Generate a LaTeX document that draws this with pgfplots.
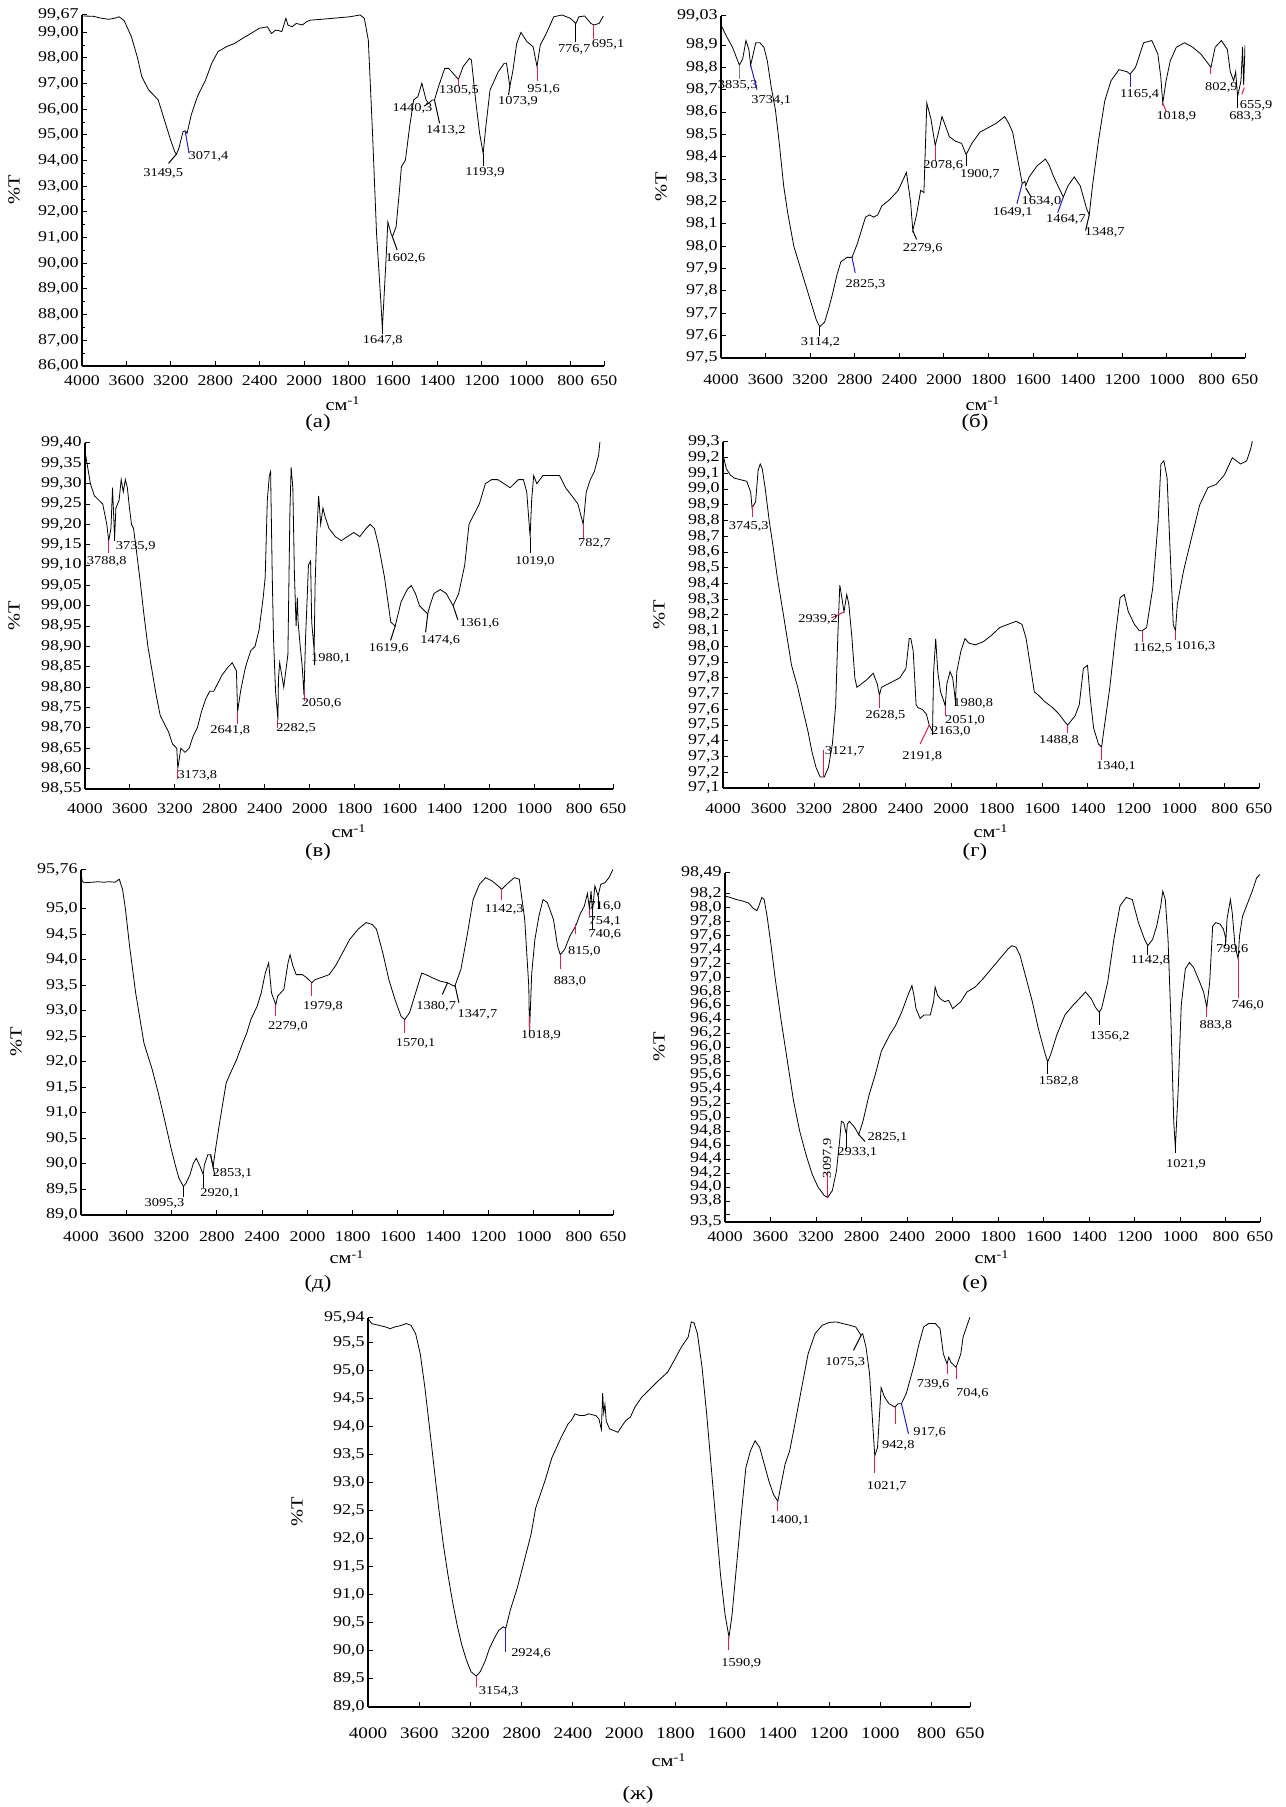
\documentclass[border=0pt]{standalone}
\usepackage{fontspec}
\setmainfont{Liberation Serif}[FakeStretch=1.2]
\usepackage{pgfplots}
\pgfplotsset{compat=1.18}
\definecolor{lred}{RGB}{225,30,80}
\definecolor{lblue}{RGB}{30,30,210}
\newcommand\xtickfont{\fontsize{7.4}{8}\selectfont}
\newcommand\ytickfont{\fontsize{7.5}{8}\selectfont}
\newcommand\annfont{\fontsize{6}{6.5}\selectfont}
\newcommand\labfont{\fontsize{8.5}{9}\selectfont}
\newcommand\subfont{\fontsize{9.5}{10}\selectfont}
% leader line from (x1,y1) to (x2,y2) and label centred at (lx,ly)
\newcommand{\ann}[8][black]{%
  \draw[#1, line width=0.5pt] (axis cs:#2,#3) -- (axis cs:#4,#5);
  \node[font=\annfont, inner sep=0pt] at (axis cs:#6,#7) {#8};}
\pgfplotsset{
 ir/.style={
  scale only axis, anchor=north west,
  axis x line*=bottom, axis y line*=left,
  clip mode=individual,
  x coord trafo/.code={\pgfmathparse{(6000-(##1)-min(##1,2000))/400}},
  xmin=4000, xmax=650,
  xtick={4000,3600,3200,2800,2400,2000,1800,1600,1400,1200,1000,800,650},
  xticklabels={4000,3600,3200,2800,2400,2000,1800,1600,1400,1200,1000,800,650},
  x tick label style={font=\xtickfont, inner sep=1.5pt},
  scaled y ticks=false,
  /pgf/number format/assume math mode=true,
  y tick label style={font=\ytickfont, inner sep=1.5pt, /pgf/number format/.cd, use comma, fixed, fixed zerofill, precision=1, assume math mode=true},
  tick align=inside, major tick length=2.5pt, minor tick length=1.5pt,
  axis line style={line width=0.6pt},
  every tick/.style={black, line width=0.5pt},
  cycle list={{black, no markers, line width=0.65pt, line join=round}},
 }
}
\begin{document}
\begin{tikzpicture}
\path[use as bounding box] (0,0) rectangle (642.5pt,903.5pt);

% ---------------- (a)
\begin{axis}[ir, at={(41pt,896pt)}, width=261pt, height=175.5pt,
  ymin=86, ymax=99.67, ytick={86,87,88,89,90,91,92,93,94,95,96,97,98,99}, minor y tick num=1,
  y tick label style={/pgf/number format/precision=2},
  extra y ticks={99.67}, extra y tick labels={99{,}67},
  x tick label style={yshift=-3pt}]
\addplot coordinates {(4000,99.63)(3900,99.62)(3833,99.55)(3760,99.50)(3700,99.55)(3666,99.60)(3620,99.45)(3555,98.82)(3500,98.00)(3462,97.27)(3400,96.75)(3369,96.62)(3314,96.36)(3258,95.58)(3202,94.80)(3165,94.34)(3149.5,94.25)(3128,94.47)(3091,95.12)(3071.4,95.16)(3054,95.06)(3017,95.77)(2961,96.49)(2887,97.14)(2832,97.79)(2776,98.24)(2702,98.43)(2627,98.56)(2553,98.76)(2479,98.95)(2405,99.15)(2331,99.21)(2294,98.95)(2257,99.08)(2220,99.05)(2201,99.02)(2164,99.54)(2146,99.28)(2108,99.21)(2071,99.34)(2015,99.28)(1989,99.41)(1970,99.47)(1924,99.50)(1794,99.60)(1748,99.67)(1729,99.54)(1711,98.69)(1692,95.06)(1674,91.16)(1655,88.56)(1647.8,87.46)(1633,89.86)(1623,91.61)(1609,91.16)(1602.6,91.03)(1586,91.42)(1572,92.72)(1562,93.76)(1544,94.02)(1525,95.32)(1507,96.36)(1488,96.49)(1470,97.01)(1451,96.36)(1440.3,96.23)(1423,96.36)(1413.2,96.36)(1395,96.88)(1367,97.59)(1349,97.59)(1330,97.40)(1305.5,97.16)(1284,97.66)(1256,97.98)(1247,97.92)(1228,96.36)(1210,95.06)(1193.9,94.28)(1182,95.32)(1163,96.75)(1126,97.46)(1099,97.79)(1089,97.79)(1073.9,96.88)(1061,97.46)(1043,98.56)(1024,98.99)(997,98.63)(969,98.43)(951.6,97.66)(937,98.50)(913,98.89)(876,99.60)(839,99.67)(802,99.54)(776.7,99.34)(763,99.60)(737,99.63)(709,99.34)(695.1,99.28)(672,99.34)(653,99.63)};
\ann{3149.5}{94.25}{3221}{93.89}{3269}{93.5}{3149,5}
\ann[lblue]{3071.4}{95.16}{3036}{94.28}{2861}{94.15}{3071,4}
\ann{1647.8}{87.46}{1647.8}{87.25}{1646}{87.0}{1647,8}
\ann{1602.6}{91.03}{1581}{90.51}{1544}{90.18}{1602,6}
\ann{1440.3}{96.23}{1460}{96.12}{1512}{96.03}{1440,3}
\ann{1413.2}{96.36}{1390}{95.45}{1362}{95.19}{1413,2}
\ann[lred]{1305.5}{97.16}{1305.5}{96.9}{1303}{96.72}{1305,5}
\ann{1193.9}{94.28}{1193.9}{93.8}{1186}{93.55}{1193,9}
\ann{1073.9}{96.88}{1080}{96.55}{1037}{96.29}{1073,9}
\ann[lred]{951.6}{97.66}{951.6}{97.1}{922}{96.77}{951,6}
\ann{776.7}{99.34}{776.7}{98.6}{784}{98.33}{776,7}
\ann[lred]{695.1}{99.28}{695.1}{98.75}{632}{98.54}{695,1}
\end{axis}

% ---------------- (б)
\begin{axis}[ir, at={(360.5pt,895.5pt)}, width=262pt, height=171pt,
  ymin=97.5, ymax=99.03, ytick={97.5,97.6,97.7,97.8,97.9,98.0,98.1,98.2,98.3,98.4,98.5,98.6,98.7,98.8,98.9},
  extra y ticks={99.03}, extra y tick labels={99{,}03},
  x tick label style={yshift=-6.5pt}]
\addplot coordinates {(4000,98.99)(3952,98.94)(3897,98.89)(3835.3,98.81)(3805,98.84)(3776,98.92)(3750,98.88)(3734.1,98.81)(3688,98.91)(3651,98.91)(3615,98.89)(3585,98.83)(3549,98.71)(3512,98.61)(3475,98.45)(3438,98.27)(3402,98.15)(3347,98.00)(3292,97.91)(3237,97.82)(3182,97.73)(3145,97.67)(3114.2,97.64)(3071,97.66)(3035,97.72)(2998,97.79)(2961,97.87)(2925,97.93)(2870,97.95)(2825.3,97.95)(2778,98.01)(2741,98.07)(2704,98.13)(2668,98.14)(2631,98.13)(2594,98.14)(2558,98.18)(2484,98.21)(2411,98.25)(2337,98.33)(2300,98.20)(2279.6,98.07)(2246,98.14)(2209,98.25)(2180,98.24)(2154,98.64)(2117,98.57)(2078.6,98.45)(2044,98.52)(2018,98.58)(1994,98.54)(1976,98.49)(1949,98.47)(1921,98.46)(1900.7,98.41)(1875,98.46)(1839,98.51)(1802,98.53)(1765,98.55)(1728,98.58)(1710,98.55)(1692,98.51)(1664,98.36)(1649.1,98.28)(1637,98.29)(1634.0,98.27)(1618,98.31)(1582,98.36)(1545,98.39)(1527,98.36)(1508,98.31)(1464.7,98.22)(1444,98.27)(1416,98.31)(1389,98.27)(1361,98.17)(1348.7,98.14)(1334,98.27)(1306,98.48)(1279,98.65)(1251,98.74)(1215,98.79)(1178,98.78)(1165.4,98.77)(1141,98.80)(1105,98.91)(1068,98.92)(1041,98.86)(1028,98.76)(1018.9,98.64)(1004,98.74)(985,98.83)(958,98.89)(921,98.91)(884,98.89)(848,98.86)(802.9,98.80)(784,98.89)(756,98.92)(729,98.88)(716,98.78)(701,98.74)(692,98.78)(683.3,98.67)(668,98.74)(661,98.89)(655.9,98.72)(650,98.90)};
\ann[gray]{3835.3}{98.81}{3835.3}{98.75}{3850}{98.72}{3835,3}
\ann[lblue]{3734.1}{98.81}{3677}{98.70}{3549}{98.65}{3734,1}
\ann{3114.2}{97.64}{3114.2}{97.60}{3108}{97.57}{3114,2}
\ann[lblue]{2825.3}{97.95}{2796}{97.88}{2704}{97.83}{2825,3}
\ann{2279.6}{98.07}{2246}{98.03}{2191}{97.99}{2279,6}
\ann[lred]{2078.6}{98.45}{2078.6}{98.38}{2007}{98.36}{2078,6}
\ann{1900.7}{98.41}{1900.7}{98.36}{1839}{98.32}{1900,7}
\ann[lblue]{1649.1}{98.28}{1673}{98.19}{1692}{98.15}{1649,1}
\ann{1633}{98.26}{1609}{98.22}{1563}{98.20}{1634,0}
\ann[lblue]{1464.7}{98.22}{1490}{98.15}{1453}{98.12}{1464,7}
\ann{1348.7}{98.14}{1365}{98.07}{1279}{98.06}{1348,7}
\ann[lblue]{1165.4}{98.77}{1165.4}{98.71}{1123}{98.68}{1165,4}
\ann[lred]{1018.9}{98.64}{1002}{98.60}{958}{98.58}{1018,9}
\ann[lred]{802.9}{98.80}{802.9}{98.77}{756}{98.71}{802,9}
\ann{683.3}{98.67}{683.3}{98.62}{648}{98.58}{683,3}
\ann[lred]{653}{98.71}{664}{98.68}{600}{98.63}{655,9}
\end{axis}

% ---------------- (в)
\begin{axis}[ir, at={(42.5pt,682pt)}, width=264pt, height=173pt,
  ymin=98.55, ymax=99.40, ytick={98.55,98.60,98.65,98.70,98.75,98.80,98.85,98.90,98.95,99.00,99.05,99.10,99.15,99.20,99.25,99.30,99.35,99.40},
  y tick label style={/pgf/number format/precision=2},
  x tick label style={yshift=-5.5pt}]
\addplot coordinates {(4000,99.38)(3982,99.35)(3952,99.30)(3916,99.27)(3879,99.26)(3842,99.25)(3806,99.20)(3788.8,99.16)(3769,99.19)(3755,99.29)(3740,99.19)(3735.9,99.17)(3725,99.24)(3696,99.26)(3678,99.31)(3659,99.28)(3641,99.31)(3623,99.29)(3604,99.24)(3586,99.20)(3568,99.19)(3549,99.15)(3513,99.07)(3476,98.98)(3440,98.90)(3403,98.84)(3366,98.78)(3330,98.73)(3293,98.71)(3256,98.69)(3220,98.66)(3183,98.65)(3173.8,98.60)(3147,98.65)(3110,98.64)(3073,98.65)(3037,98.68)(3000,98.70)(2963,98.74)(2927,98.77)(2890,98.79)(2854,98.79)(2817,98.81)(2780,98.83)(2725,98.85)(2689,98.86)(2652,98.84)(2641.8,98.74)(2615,98.79)(2579,98.84)(2560,98.86)(2524,98.89)(2487,98.90)(2451,98.94)(2414,99.02)(2396,99.07)(2377,99.26)(2359,99.32)(2348,99.33)(2333,99.07)(2322,98.92)(2304,98.79)(2282.5,98.72)(2278,98.82)(2267,98.86)(2231,98.80)(2194,98.88)(2176,99.23)(2165,99.34)(2150,99.29)(2136,99.08)(2121,98.95)(2110,99.02)(2103,98.96)(2084,98.90)(2066,98.85)(2050.6,98.78)(2037,98.92)(2022,99.02)(2011,99.10)(1996,99.11)(1991,98.96)(1980.1,98.89)(1976,99.05)(1969,99.17)(1960,99.27)(1951,99.20)(1941,99.24)(1932,99.22)(1914,99.19)(1886,99.17)(1859,99.16)(1832,99.17)(1804,99.18)(1777,99.17)(1749,99.19)(1731,99.20)(1712,99.19)(1694,99.15)(1667,99.07)(1639,98.96)(1619.6,98.95)(1593,99.01)(1566,99.04)(1548,99.05)(1529,99.03)(1511,99.00)(1474.6,98.98)(1465,99.00)(1447,99.03)(1419,99.04)(1392,99.03)(1361.6,99.00)(1337,99.03)(1310,99.10)(1291,99.20)(1273,99.22)(1245,99.25)(1218,99.30)(1190,99.31)(1163,99.31)(1135,99.30)(1108,99.29)(1071,99.31)(1049,99.31)(1034,99.28)(1019.0,99.17)(1012,99.26)(1003,99.32)(989,99.30)(962,99.32)(925,99.32)(888,99.32)(861,99.29)(833,99.27)(806,99.25)(782.7,99.20)(769,99.28)(751,99.31)(733,99.33)(714,99.37)(705,99.42)};
\ann[lred]{3788.8}{99.16}{3788.8}{99.13}{3806}{99.109}{3788,8}
\ann{3740}{99.19}{3740}{99.16}{3549}{99.146}{3735,9}
\ann[lred]{3173.8}{98.60}{3173.8}{98.575}{3000}{98.584}{3173,8}
\ann[lred]{2641.8}{98.74}{2641.8}{98.71}{2707}{98.695}{2641,8}
\ann[lred]{2282.5}{98.72}{2282.5}{98.70}{2121}{98.699}{2282,5}
\ann[lred]{2050.6}{98.79}{2050.6}{98.765}{1947}{98.76}{2050,6}
\ann{1980.1}{98.89}{1978}{98.855}{1905}{98.87}{1980,1}
\ann{1619.6}{98.95}{1640}{98.915}{1648}{98.896}{1619,6}
\ann{1474.6}{98.98}{1484}{98.935}{1419}{98.916}{1474,6}
\ann{1361.6}{99.00}{1340}{98.965}{1245}{98.957}{1361,6}
\ann{1019}{99.17}{1019}{99.13}{998}{99.109}{1019,0}
\ann[lred]{782.7}{99.20}{782.7}{99.165}{733}{99.152}{782,7}
\end{axis}

% ---------------- (г)
\begin{axis}[ir, at={(361.5pt,682.5pt)}, width=268pt, height=173pt,
  ymin=97.1, ymax=99.3, ytick={97.1,97.2,97.3,97.4,97.5,97.6,97.7,97.8,97.9,98.0,98.1,98.2,98.3,98.4,98.5,98.6,98.7,98.8,98.9,99.0,99.1,99.2,99.3},
  x tick label style={yshift=-6pt}]
\addplot coordinates {(4000,99.22)(3971,99.13)(3936,99.09)(3900,99.07)(3846,99.06)(3792,99.05)(3757,98.98)(3745.3,98.88)(3714,98.92)(3692,99.12)(3674,99.16)(3656,99.13)(3631,99.01)(3595,98.80)(3560,98.63)(3524,98.44)(3470,98.20)(3399,97.88)(3345,97.74)(3291,97.57)(3255,97.46)(3220,97.33)(3184,97.23)(3148,97.17)(3121.7,97.17)(3112,97.17)(3076,97.23)(3041,97.38)(3012,97.63)(2994,98.05)(2976,98.39)(2958,98.31)(2939.2,98.22)(2915,98.33)(2897,98.27)(2869,98.05)(2844,97.80)(2826,97.74)(2790,97.76)(2736,97.79)(2683,97.83)(2647,97.76)(2628.5,97.69)(2611,97.74)(2557,97.76)(2504,97.78)(2450,97.80)(2396,97.86)(2367,98.05)(2353,98.05)(2332,97.97)(2307,97.63)(2289,97.61)(2253,97.60)(2217,97.57)(2191.8,97.50)(2163.0,97.46)(2153,97.84)(2135,98.05)(2117,97.84)(2092,97.71)(2063,97.65)(2051.0,97.62)(2038,97.76)(2009,97.84)(1993,97.80)(1980.8,97.65)(1975,97.84)(1957,97.97)(1939,98.05)(1921,98.02)(1894,98.01)(1859,98.03)(1823,98.07)(1787,98.12)(1751,98.14)(1715,98.16)(1689,98.14)(1671,98.05)(1653,97.88)(1635,97.71)(1617,97.69)(1590,97.65)(1554,97.61)(1527,97.57)(1501,97.52)(1488.8,97.50)(1456,97.56)(1438,97.63)(1420,97.86)(1402,97.88)(1390,97.67)(1375,97.48)(1354,97.38)(1340.1,97.36)(1331,97.46)(1304,97.74)(1277,98.10)(1259,98.31)(1241,98.33)(1223,98.22)(1196,98.14)(1175,98.10)(1162.5,98.10)(1143,98.12)(1116,98.37)(1092,98.80)(1080,99.16)(1067,99.18)(1053,99.07)(1039,98.58)(1026,98.14)(1016.3,98.10)(1008,98.27)(981,98.48)(946,98.69)(910,98.90)(874,99.01)(838,99.03)(802,99.09)(767,99.20)(731,99.16)(704,99.18)(686,99.26)(677,99.32)};
\ann[lred]{3745.3}{98.90}{3745.3}{98.82}{3774}{98.76}{3745,3}
\ann[lred]{2939.2}{98.22}{3050}{98.18}{3166}{98.17}{2939,2}
\ann[lred]{3121.7}{97.17}{3121.7}{97.34}{2933}{97.33}{3121,7}
\ann[lred]{2628.5}{97.69}{2628.5}{97.61}{2575}{97.56}{2628,5}
\ann[lred]{2191.8}{97.50}{2271}{97.38}{2253}{97.30}{2191,8}
\ann{2163}{97.46}{2163}{97.44}{2002}{97.46}{2163,0}
\ann[lred]{2051}{97.62}{2051}{97.56}{1939}{97.53}{2051,0}
\ann{1980.8}{97.65}{1980.8}{97.62}{1903}{97.64}{1980,8}
\ann[lred]{1488.8}{97.50}{1488.8}{97.45}{1527}{97.40}{1488,8}
\ann[lred]{1340.1}{97.36}{1340.1}{97.28}{1277}{97.24}{1340,1}
\ann[lred]{1162.5}{98.10}{1162.5}{98.03}{1116}{97.99}{1162,5}
\ann[lred]{1016.3}{98.10}{1016.3}{98.04}{928}{98.00}{1016,3}
\end{axis}

% ---------------- (д)
\begin{axis}[ir, at={(40.5pt,468.5pt)}, width=266pt, height=172.5pt,
  ymin=89, ymax=95.76, ytick={89,89.5,90,90.5,91,91.5,92,92.5,93,93.5,94,94.5,95},
  extra y ticks={95.76}, extra y tick labels={95{,}76},
  x tick label style={yshift=-6.5pt}]
\addplot coordinates {(4000,95.71)(3989,95.54)(3971,95.51)(3900,95.52)(3850,95.53)(3800,95.52)(3750,95.53)(3700,95.52)(3662,95.58)(3633,95.38)(3607,94.99)(3571,94.27)(3517,93.35)(3444,92.37)(3371,91.85)(3317,91.39)(3262,90.87)(3208,90.34)(3171,90.01)(3135,89.72)(3095.3,89.56)(3073,89.62)(3037,89.79)(3008,90.01)(2982,90.11)(2953,89.98)(2920.1,89.79)(2910,89.98)(2880,90.18)(2855,90.18)(2833,89.95)(2808,90.34)(2771,90.87)(2717,91.59)(2680,91.78)(2626,92.04)(2571,92.37)(2535,92.57)(2499,92.83)(2444,93.09)(2408,93.35)(2372,93.74)(2342,93.94)(2317,93.35)(2279.0,93.12)(2262,93.29)(2208,93.42)(2171,93.94)(2153,94.10)(2128,93.88)(2099,93.71)(2044,93.71)(2007,93.65)(1979.8,93.55)(1967,93.61)(1940,93.65)(1904,93.71)(1876,93.88)(1849,94.10)(1813,94.40)(1776,94.60)(1740,94.73)(1713,94.69)(1695,94.60)(1667,94.14)(1640,93.61)(1613,93.22)(1586,92.89)(1570.1,92.83)(1549,92.96)(1522,93.35)(1495,93.74)(1477,93.71)(1449,93.65)(1413,93.58)(1380.7,93.55)(1349,93.48)(1322,93.81)(1295,94.46)(1268,95.18)(1240,95.48)(1213,95.61)(1186,95.55)(1158,95.45)(1142.3,95.38)(1112,95.51)(1086,95.61)(1064,95.58)(1040,94.79)(1022,93.48)(1018.9,92.57)(1009,93.74)(995,94.40)(977,94.86)(959,95.18)(940,95.12)(913,94.79)(895,94.27)(883.0,94.10)(864,94.20)(840,94.47)(815.0,94.66)(795,94.90)(777,95.05)(763,95.30)(754.1,95.00)(747,95.35)(740.6,94.95)(730,95.45)(716.0,95.25)(704,95.48)(686,95.51)(668,95.61)(650,95.77)};
\ann{3095.3}{89.56}{3095.3}{89.36}{3262}{89.23}{3095,3}
\ann{2920.1}{89.79}{2920.1}{89.52}{2771}{89.43}{2920,1}
\ann{2855}{90.18}{2819}{89.79}{2662}{89.82}{2853,1}
\ann[lred]{2279}{93.12}{2279}{92.9}{2172}{92.70}{2279,0}
\ann[lred]{1979.8}{93.55}{1979.8}{93.29}{1931}{93.09}{1979,8}
\ann[lred]{1570.1}{92.83}{1570.1}{92.57}{1522}{92.37}{1570,1}
\ann{1380.7}{93.55}{1404}{93.32}{1431}{93.09}{1380,7}
\ann{1347.7}{93.5}{1331}{93.16}{1249}{92.93}{1347,7}
\ann[lred]{1142.3}{95.38}{1142.3}{95.18}{1131}{94.99}{1142,3}
\ann[lred]{1018.9}{92.9}{1018.9}{92.62}{968}{92.51}{1018,9}
\ann[lred]{883}{94.10}{883}{93.82}{840}{93.58}{883,0}
\ann[lred]{815}{94.70}{815}{94.5}{777}{94.17}{815,0}
\ann[lred]{754.1}{95.00}{754.1}{94.85}{686}{94.76}{754,1}
\ann{740.6}{94.95}{740.6}{94.6}{686}{94.50}{740,6}
\ann{716}{95.25}{716}{95.0}{686}{95.05}{716,0}
\end{axis}

% ---------------- (е)
\begin{axis}[ir, at={(362.5pt,467pt)}, width=267.5pt, height=174.5pt,
  ymin=93.5, ymax=98.49, ytick={93.8,94.0,94.2,94.4,94.6,94.8,95.0,95.2,95.4,95.6,95.8,96.0,96.2,96.4,96.6,96.8,97.0,97.2,97.4,97.6,97.8,98.0,98.2},
  extra y ticks={93.5,93.6,98.49}, extra y tick labels={93{,}5,,98{,}49},
  x tick label style={yshift=-3pt}]
\addplot coordinates {(4000,98.16)(3953,98.14)(3900,98.11)(3846,98.09)(3792,98.06)(3756,97.99)(3720,97.95)(3702,98.02)(3677,98.14)(3656,98.11)(3631,97.88)(3595,97.45)(3559,96.98)(3505,96.36)(3451,95.79)(3398,95.23)(3344,94.80)(3290,94.47)(3236,94.19)(3183,94.00)(3129,93.88)(3097.9,93.85)(3057,93.95)(3021,94.23)(2993,94.66)(2978,94.94)(2957,94.92)(2933.1,94.75)(2925,94.90)(2907,94.94)(2860,94.85)(2825.1,94.75)(2788,94.94)(2734,95.32)(2681,95.60)(2627,95.94)(2555,96.17)(2501,96.31)(2448,96.50)(2394,96.74)(2358,96.88)(2340,96.74)(2322,96.55)(2286,96.41)(2251,96.46)(2197,96.46)(2168,96.65)(2154,96.86)(2132,96.74)(2107,96.69)(2071,96.65)(2035,96.67)(2000,96.55)(1982,96.60)(1964,96.65)(1937,96.79)(1901,96.86)(1866,96.98)(1830,97.12)(1794,97.26)(1758,97.40)(1740,97.45)(1722,97.43)(1704,97.31)(1677,96.98)(1650,96.65)(1624,96.27)(1597,95.94)(1582.8,95.79)(1570,95.89)(1543,96.17)(1507,96.46)(1471,96.60)(1444,96.69)(1417,96.79)(1391,96.69)(1373,96.57)(1356.2,96.50)(1346,96.55)(1319,96.93)(1292,97.54)(1265,98.02)(1238,98.14)(1211,98.11)(1184,97.78)(1157,97.54)(1142.8,97.45)(1122,97.54)(1104,97.73)(1086,98.02)(1077,98.23)(1066,98.11)(1054,97.54)(1041,96.36)(1029,94.94)(1021.9,94.56)(1009,95.42)(996,96.60)(978,97.12)(960,97.21)(942,97.14)(915,96.93)(898,96.79)(883.8,96.57)(871,96.93)(858,97.73)(844,97.78)(826,97.76)(811,97.69)(799.6,97.54)(795,97.83)(780,98.11)(772,97.92)(760,97.45)(746.0,97.26)(740,97.59)(727,97.87)(709,98.02)(682,98.25)(665,98.42)(650,98.47)};
\draw[lred, line width=0.5pt] (axis cs:3097.9,93.85) -- (axis cs:3097.9,94.2);
\node[font=\annfont, inner sep=0pt, rotate=90] at (axis cs:3097.9,94.41) {3097,9};
\ann{2933.1}{94.75}{2933.1}{94.55}{2838}{94.50}{2933,1}
\ann{2825.1}{94.75}{2770}{94.65}{2573}{94.71}{2825,1}
\ann{1582.8}{95.79}{1582.8}{95.62}{1534}{95.51}{1582,8}
\ann{1356.2}{96.50}{1356.2}{96.32}{1310}{96.15}{1356,2}
\ann{1142.8}{97.45}{1142.8}{97.32}{1131}{97.24}{1142,8}
\ann{1021.9}{94.56}{1021.9}{94.48}{975}{94.33}{1021,9}
\ann[lred]{883.8}{96.57}{883.8}{96.43}{844}{96.31}{883,8}
\ann{799.6}{97.54}{799.6}{97.45}{772}{97.40}{799,6}
\ann[lred]{746}{97.26}{746}{96.7}{704}{96.60}{746,0}
\end{axis}

% ---------------- (ж)
\begin{axis}[ir, at={(184pt,244.5pt)}, width=301pt, height=194.5pt,
  ymin=89, ymax=95.94, ytick={89,89.5,90,90.5,91,91.5,92,92.5,93,93.5,94,94.5,95,95.5},
  extra y ticks={95.94}, extra y tick labels={95{,}94},
  x tick label style={font=\fontsize{8}{8.5}\selectfont, yshift=-8.5pt}]
\addplot coordinates {(4000,95.93)(3971,95.84)(3917,95.81)(3863,95.78)(3827,95.75)(3791,95.78)(3737,95.81)(3701,95.84)(3665,95.81)(3628,95.66)(3592,95.30)(3556,94.70)(3520,93.99)(3484,93.27)(3448,92.55)(3412,91.90)(3376,91.36)(3340,90.88)(3304,90.46)(3268,90.11)(3232,89.84)(3196,89.63)(3154.3,89.55)(3124,89.63)(3087,89.81)(3051,90.05)(3015,90.22)(2979,90.37)(2943,90.43)(2924.6,90.40)(2889,90.73)(2835,91.12)(2781,91.60)(2727,92.08)(2691,92.55)(2655,92.79)(2619,93.03)(2564,93.45)(2492,93.81)(2438,94.05)(2413,94.11)(2384,94.23)(2348,94.20)(2312,94.20)(2276,94.23)(2222,94.20)(2197,94.14)(2178,93.95)(2168,94.60)(2160,94.25)(2150,94.40)(2140,94.10)(2114,93.96)(2078,93.93)(2049,93.90)(2024,93.99)(1994,94.11)(1976,94.17)(1958,94.35)(1931,94.53)(1904,94.65)(1867,94.82)(1831,94.97)(1805,95.18)(1777,95.42)(1750,95.60)(1738,95.87)(1727,95.85)(1714,95.66)(1696,95.06)(1678,94.23)(1660,93.27)(1642,92.31)(1624,91.36)(1606,90.64)(1590.9,90.25)(1579,90.64)(1561,91.54)(1543,92.43)(1525,93.27)(1507,93.57)(1489,93.75)(1471,93.63)(1453,93.33)(1435,93.03)(1417,92.79)(1400.1,92.67)(1390,92.91)(1372,93.33)(1354,93.57)(1336,93.99)(1309,94.65)(1282,95.30)(1255,95.66)(1227,95.81)(1200,95.86)(1173,95.87)(1146,95.84)(1119,95.81)(1096,95.78)(1075.3,95.63)(1069,95.66)(1056,95.42)(1042,94.94)(1029,93.99)(1021.7,93.48)(1011,93.63)(997,94.70)(984,94.53)(966,94.41)(942.8,94.35)(931,94.41)(917.6,94.41)(899,94.59)(885,94.82)(867,95.12)(849,95.48)(831,95.78)(812,95.84)(785,95.84)(767,95.75)(754,95.30)(739.6,95.12)(733,95.24)(725,95.15)(704.6,95.06)(686,95.30)(677,95.60)(659,95.84)(650,95.96)};
\ann[lred]{3154.3}{89.55}{3154.3}{89.36}{2979}{89.28}{3154,3}
\ann[lblue]{2924.6}{90.43}{2924.6}{89.99}{2727}{89.96}{2924,6}
\ann[lred]{1590.9}{90.25}{1590.9}{90.01}{1543}{89.78}{1590,9}
\ann[lred]{1400.1}{92.67}{1400.1}{92.49}{1354}{92.32}{1400,1}
\ann{1075.3}{95.63}{1105}{95.36}{1137}{95.15}{1075,3}
\ann[lred]{1021.7}{93.48}{1021.7}{93.18}{975}{92.94}{1021,7}
\ann[lred]{942.8}{94.35}{942.8}{94.05}{930}{93.66}{942,8}
\ann[lblue]{917.6}{94.41}{890}{93.87}{808}{93.90}{917,6}
\ann[lred]{739.6}{95.12}{739.6}{94.94}{794}{94.76}{739,6}
\ann[lred]{704.6}{95.06}{704.6}{94.85}{641}{94.59}{704,6}
\end{axis}

% ---------------- outer labels
\begin{scope}[every node/.style={inner sep=0pt}]
\node[font=\labfont, rotate=90] at (7pt,808.5pt) {\%T};
\node[font=\labfont, rotate=90] at (330.5pt,810pt) {\%T};
\node[font=\labfont, rotate=90] at (7pt,595.5pt) {\%T};
\node[font=\labfont, rotate=90] at (329.5pt,596pt) {\%T};
\node[font=\labfont, rotate=90] at (8pt,382.5pt) {\%T};
\node[font=\labfont, rotate=90] at (329.5pt,380pt) {\%T};
\node[font=\labfont, rotate=90] at (148.5pt,147.5pt) {\%T};
\node[font=\labfont] at (171.5pt,701.5pt) {см\textsuperscript{-1}};
\node[font=\labfont] at (491.5pt,701.5pt) {см\textsuperscript{-1}};
\node[font=\labfont] at (174.5pt,488pt) {см\textsuperscript{-1}};
\node[font=\labfont] at (495.5pt,488pt) {см\textsuperscript{-1}};
\node[font=\labfont] at (173.5pt,275pt) {см\textsuperscript{-1}};
\node[font=\labfont] at (496pt,275pt) {см\textsuperscript{-1}};
\node[font=\labfont] at (334.5pt,23.5pt) {см\textsuperscript{-1}};
\node[font=\subfont] at (159pt,692pt) {(а)};
\node[font=\subfont] at (487.5pt,692pt) {(б)};
\node[font=\subfont] at (159pt,477.5pt) {(в)};
\node[font=\subfont] at (487.5pt,477.5pt) {(г)};
\node[font=\subfont] at (159pt,261.5pt) {(д)};
\node[font=\subfont] at (487.5pt,261.5pt) {(е)};
\node[font=\subfont] at (319pt,6pt) {(ж)};
\end{scope}
\end{tikzpicture}
\end{document}
